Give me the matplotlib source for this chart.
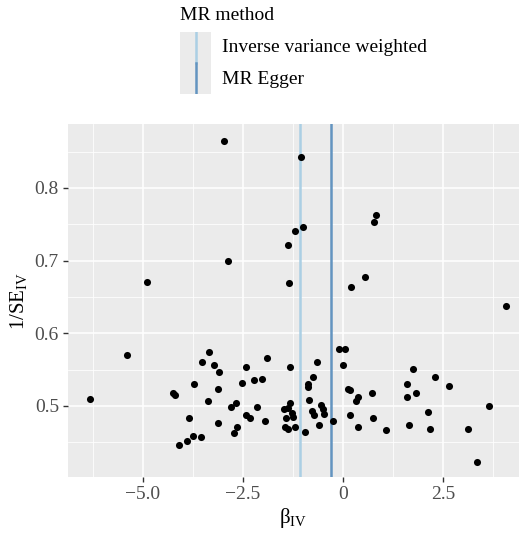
import matplotlib.pyplot as plt
import numpy as np

plt.rcParams['font.family'] = ['Liberation Serif', 'DejaVu Serif']

# SNP-level estimates
beta_iv = [-6.33, -5.41, -4.91, -4.26, -4.20, -4.09, -3.89, -3.84, -3.76, -3.72,
           -3.55, -3.52, -3.38, -3.35, -3.22, -3.13, -3.13, -3.10, -2.98, -2.87,
           -2.81, -2.73, -2.68, -2.66, -2.53, -2.43, -2.43, -2.33, -2.22, -2.16,
           -2.02, -1.95, -1.91, -1.48, -1.45, -1.43, -1.38, -1.37, -1.37, -1.35,
           -1.33, -1.33, -1.28, -1.24, -1.21, -1.20, -1.05, -1.01, -0.95, -0.88,
           -0.87, -0.85, -0.78, -0.74, -0.72, -0.64, -0.60, -0.54, -0.51, -0.47,
           -0.26, -0.11, 0.04, 0.01, 0.12, 0.175, 0.175, 0.20, 0.33, 0.37,
           0.37, 0.55, 0.72, 0.75, 0.78, 0.82, 1.08, 1.59, 1.59, 1.66,
           1.76, 1.83, 2.13, 2.17, 2.30, 2.65, 3.12, 3.35, 3.65, 4.07]
inv_se = [0.510, 0.570, 0.671, 0.5175, 0.515, 0.446, 0.452, 0.4835, 0.4587, 0.5307,
          0.457, 0.560, 0.507, 0.5747, 0.556, 0.523, 0.4762, 0.547, 0.864, 0.699,
          0.498, 0.4624, 0.5045, 0.4707, 0.532, 0.553, 0.4876, 0.483, 0.536, 0.4986,
          0.5376, 0.480, 0.5656, 0.4955, 0.4715, 0.483, 0.722, 0.497, 0.469, 0.669,
          0.553, 0.5045, 0.490, 0.4845, 0.741, 0.4707, 0.842, 0.746, 0.4647, 0.5257,
          0.530, 0.508, 0.4935, 0.540, 0.4876, 0.5605, 0.474, 0.501, 0.4955, 0.489,
          0.480, 0.579, 0.579, 0.556, 0.524, 0.522, 0.4876, 0.664, 0.507, 0.512,
          0.4707, 0.677, 0.5175, 0.484, 0.753, 0.763, 0.4666, 0.530, 0.512, 0.4743,
          0.551, 0.5175, 0.4913, 0.4688, 0.540, 0.528, 0.4688, 0.423, 0.500, 0.6376]

methods = ['Inverse variance weighted', 'MR Egger']
method_b = [-1.075, -0.30]
method_col = ['#abcfe4', '#6394c0']

fig = plt.figure(figsize=(5.2, 5.33), dpi=100)
ax = fig.add_axes([68/520, 1-477/533, 451/520, 353/533])
ax.set_facecolor('#ebebeb')

# ggplot style grid
ax.set_xticks([-5.0, -2.5, 0, 2.5])
ax.set_xticklabels(['\u22125.0', '\u22122.5', '0', '2.5'])
ax.set_yticks([0.5, 0.6, 0.7, 0.8])
ax.set_xticks([-6.25, -3.75, -1.25, 1.25, 3.75], minor=True)
ax.set_yticks([0.45, 0.55, 0.65, 0.75, 0.85], minor=True)
ax.grid(True, which='major', color='white', lw=1.1)
ax.grid(True, which='minor', color='white', lw=0.55)
ax.set_axisbelow(True)
for s in ax.spines.values():
    s.set_visible(False)
ax.tick_params(which='major', length=3.5, width=1, color='#333333',
               labelsize=14, labelcolor='#4d4d4d', pad=3)
ax.tick_params(which='minor', length=0)

ax.scatter(beta_iv, inv_se, s=26, color='black', zorder=3, linewidths=0)
for b, c in zip(method_b, method_col):
    ax.axvline(b, color=c, lw=1.8, zorder=2)

ax.set_xlim(-6.875, 4.4)
ax.set_ylim(0.4023, 0.888)
ax.set_xlabel(r'$\mathregular{\beta_{IV}}$', fontsize=15, labelpad=2)
ax.set_ylabel(r'$\mathregular{1/SE_{IV}}$', fontsize=15, labelpad=4)

# legend drawn by hand, ggplot style vertical keys
fig.text(180/520, 1-16/533, 'MR method', fontsize=14, va='center', ha='left')
kax = fig.add_axes([180/520, 1-94/533, 31/520, 62/533])
kax.set_facecolor('#ebebeb')
kax.set_xlim(0, 1)
kax.set_ylim(0, 2)
kax.set_xticks([])
kax.set_yticks([])
for s in kax.spines.values():
    s.set_visible(False)
for i, (m, c) in enumerate(zip(methods, method_col)):
    kax.plot([0.5, 0.5], [2-i, 1-i], color=c, lw=1.8)
    fig.text(222/520, 1-(48+31*i)/533, m, fontsize=14, va='center', ha='left')

fig.savefig('out.png', dpi=100)
